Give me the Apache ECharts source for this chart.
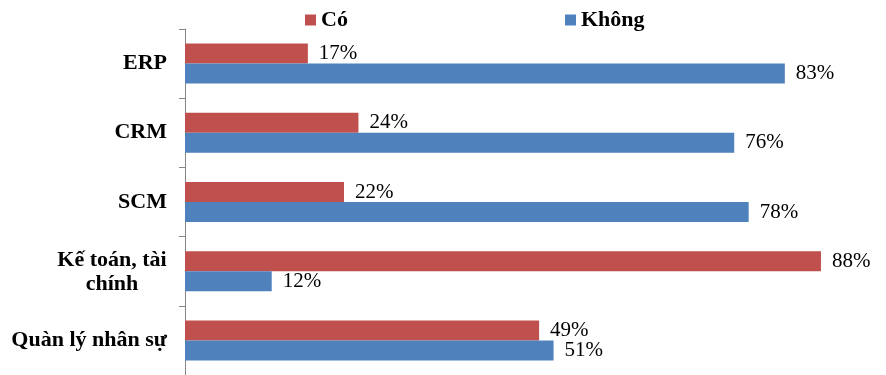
<!DOCTYPE html>
<html>
<head>
<meta charset="utf-8">
<script src="https://cdn.jsdelivr.net/npm/echarts@6/dist/echarts.min.js"></script>
<style>
  html, body { margin: 0; padding: 0; background: #fff; }
  #chart { width: 886px; height: 375px; }
</style>
</head>
<body>
<div id="chart"></div>
<script>
const categories = ['ERP', 'CRM', 'SCM', 'Kế toán, tài\nchính', 'Quàn lý nhân sự'];
const coValues = [17, 24, 22, 88, 49];
const khongValues = [83, 76, 78, 12, 51];
const seriesNames = ['Có', 'Không'];

const chart = echarts.init(document.getElementById('chart'));
const serif = '"Liberation Serif", "Times New Roman", serif';

const labelStyle = {
  show: true,
  position: 'right',
  distance: 11,
  formatter: p => p.value + '%',
  fontFamily: serif,
  fontSize: 21,
  color: '#000'
};

const legendText = { fontFamily: serif, fontWeight: 'bold', fontSize: 22, color: '#000' };

chart.setOption({
  animation: false,
  legend: [
    {
      data: [seriesNames[0]], left: 305, top: 9, padding: 0,
      icon: 'rect', itemWidth: 11, itemHeight: 11, itemGap: 0,
      textStyle: legendText
    },
    {
      data: [seriesNames[1]], left: 565, top: 9, padding: 0,
      icon: 'rect', itemWidth: 11, itemHeight: 11, itemGap: 0,
      textStyle: legendText
    }
  ],
  grid: { left: 185, top: 29, right: 0, height: 350, containLabel: false },
  xAxis: {
    type: 'value', min: 0, max: 97,
    show: false
  },
  yAxis: {
    type: 'category',
    inverse: true,
    data: categories,
    axisLine: { lineStyle: { color: '#868686', width: 1 } },
    axisTick: { show: true, length: 6, lineStyle: { color: '#868686', width: 1 } },
    axisLabel: {
      margin: 18,
      fontFamily: serif,
      fontWeight: 'bold',
      fontSize: 22,
      color: '#000',
      lineHeight: 24,
      formatter: v => v.indexOf('\n') >= 0
        ? v.split('\n').map(s => '{c|' + s + '}').join('\n')
        : v,
      rich: {
        c: { width: 110, align: 'center', fontFamily: serif, fontWeight: 'bold', fontSize: 22, lineHeight: 24, padding: [3, 0, 0, 0], color: '#000' }
      }
    }
  },
  series: [
    {
      name: seriesNames[0], type: 'bar', data: coValues,
      barWidth: 20, barGap: '0%',
      itemStyle: { color: '#C0504D' },
      label: labelStyle
    },
    {
      name: seriesNames[1], type: 'bar', data: khongValues,
      barWidth: 20, barGap: '0%',
      itemStyle: { color: '#4F81BD' },
      label: labelStyle
    }
  ]
});
</script>
</body>
</html>
